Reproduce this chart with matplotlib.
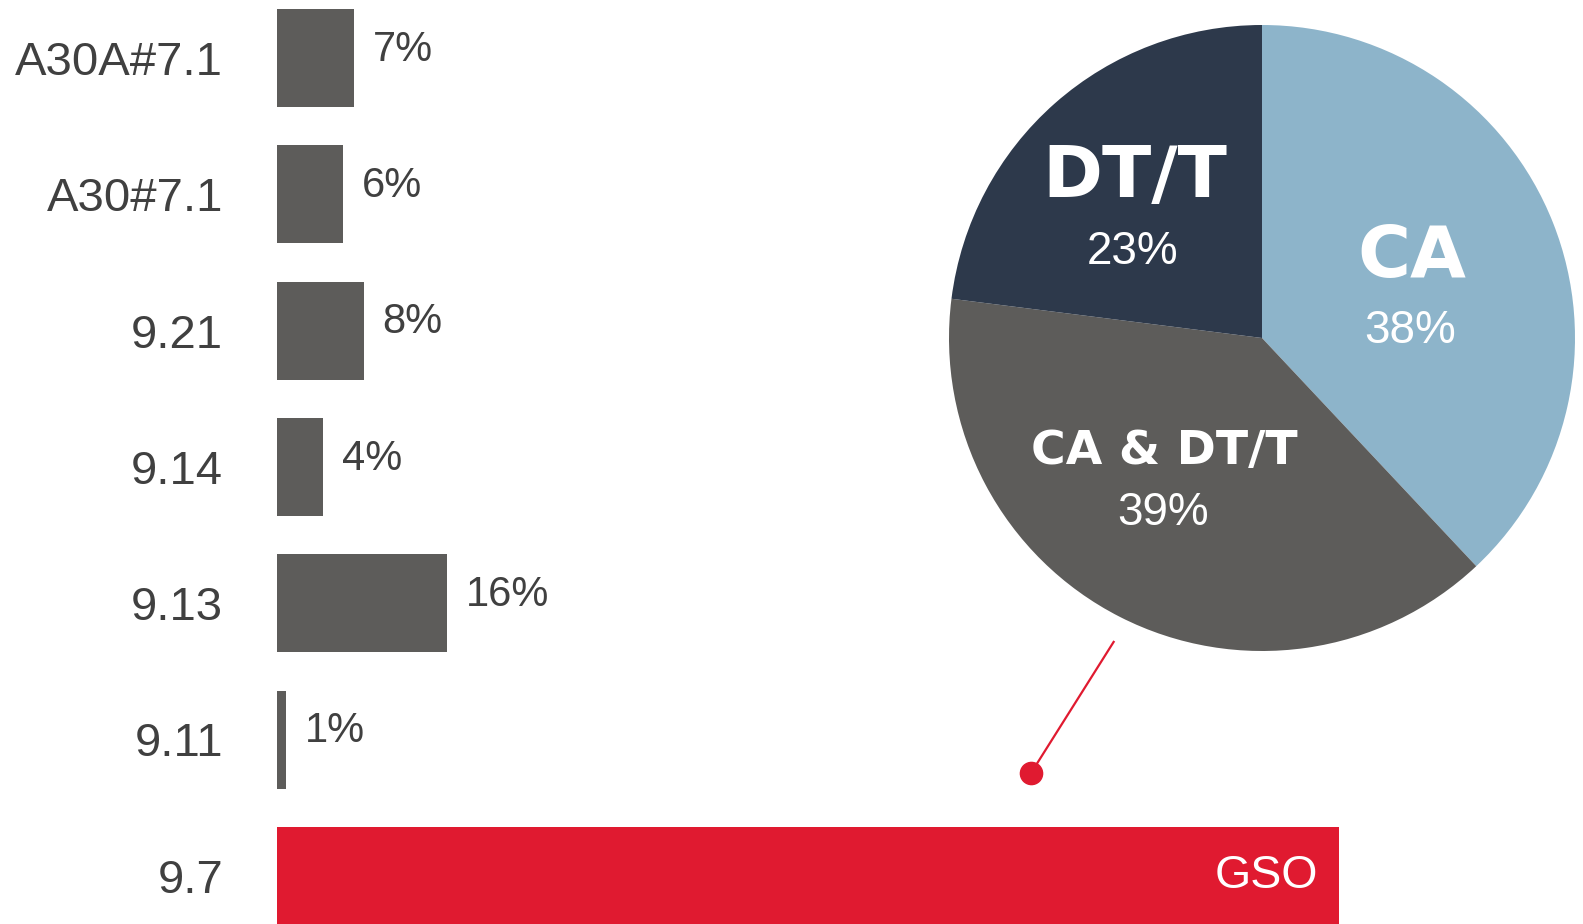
import matplotlib
matplotlib.use('Agg')
import matplotlib.pyplot as plt
import numpy as np

# bar data (top to bottom)
categories = ['A30A#7.1', 'A30#7.1', '9.21', '9.14', '9.13', '9.11', '9.7']
values = [7.1, 6.1, 8.0, 4.3, 15.6, 0.85, 97.5]
value_labels = ['7%', '6%', '8%', '4%', '16%', '1%', 'GSO']

# pie data (clockwise from top)
pie_names = ['CA', 'CA & DT/T', 'DT/T']
pie_values = [38, 39, 23]
pie_labels = ['38%', '39%', '23%']

grey = '#5d5c5a'
red = '#e01a30'
txt = '#404040'
pie_colors = ['#8db4ca', grey, '#2d394b']

plt.rcParams['font.family'] = ['Liberation Sans', 'DejaVu Sans']

W, H = 1583, 924
fig = plt.figure(figsize=(W / 100, H / 100), dpi=100)

# bars axis, 10.9 px per percent, 136.3 px per row
pitch = 136.3
y0 = 58.0
ax = fig.add_axes([276.6 / W, 0, 1090 / W, 1])
y = np.arange(len(categories))
cols = [grey] * (len(categories) - 1) + [red]
ax.barh(y, values, height=98 / pitch, color=cols)
ax.set_xlim(0, 100)
ax.set_ylim((H - y0) / pitch, -y0 / pitch)
ax.set_yticks(y)
ax.set_yticklabels(categories, fontsize=34, color=txt)
ax.tick_params(axis='y', length=0, pad=38.5)
ax.set_xticks([])
for s in ax.spines.values():
    s.set_visible(False)

for i in range(len(values) - 1):
    ax.annotate(value_labels[i], (values[i], y[i]), xytext=(13.5, 6),
                textcoords='offset points', ha='left', va='center',
                fontsize=30, color=txt)
# GSO label inside the red bar
ax.annotate(value_labels[-1], (values[-1], y[-1]), xytext=(-15, 0),
            textcoords='offset points', ha='right', va='center',
            fontsize=33.5, color='white')

# pie axis
cx, cy, r = 1262, 338, 313
axp = fig.add_axes([(cx - r) / W, (H - cy - r) / H, 2 * r / W, 2 * r / H])
axp.pie(pie_values, colors=pie_colors, startangle=90, counterclock=False,
        wedgeprops=dict(linewidth=0))
axp.set_xlim(-1, 1)
axp.set_ylim(-1, 1)
axp.set_aspect('equal')
axp.axis('off')

name_pos = [(0.479, 0.257), (-0.313, -0.364), (-0.406, 0.514)]
pct_pos = [(0.473, 0.022), (-0.316, -0.559), (-0.412, 0.275)]
name_size = [52, 34, 52]
for i in range(len(pie_names)):
    axp.text(name_pos[i][0], name_pos[i][1], pie_names[i], ha='center', va='center',
             fontsize=name_size[i], fontweight='heavy', family='DejaVu Sans', color='white')
    axp.text(pct_pos[i][0], pct_pos[i][1], pie_labels[i], ha='center', va='center',
             fontsize=33, color='white')

# red callout line from pie to the GSO bar
axp.plot([-0.474, -0.738], [-0.971, -1.39], color=red, lw=1.6, clip_on=False)
axp.plot([-0.738], [-1.39], 'o', color=red, markersize=16, clip_on=False)

plt.savefig('out.png', dpi=100)
plt.close()
